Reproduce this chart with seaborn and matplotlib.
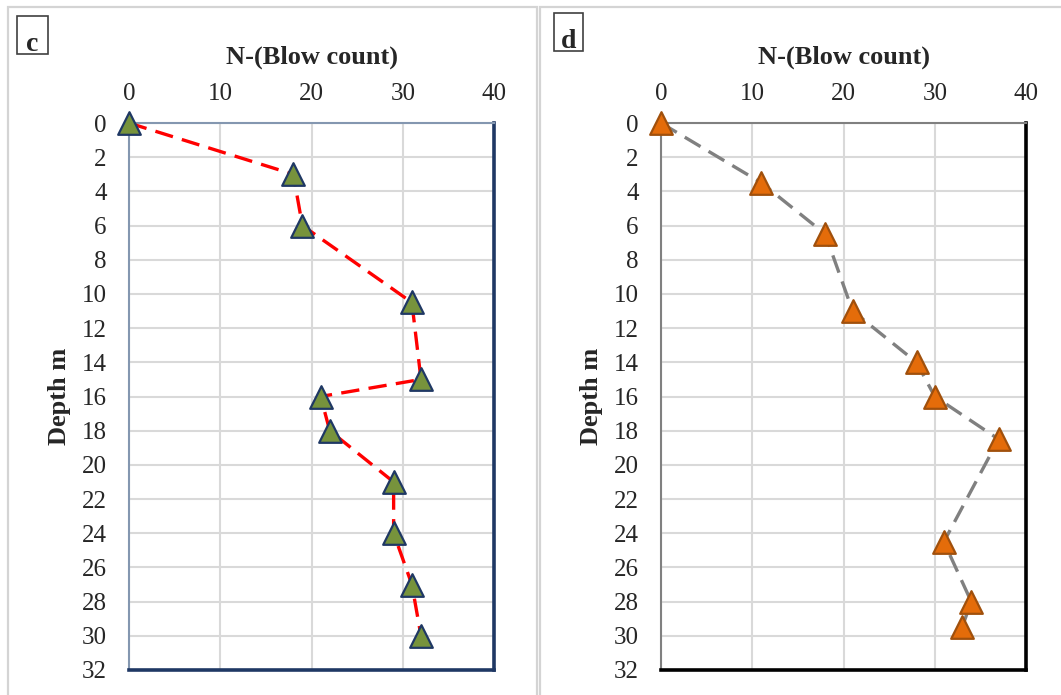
import matplotlib
matplotlib.use('Agg')
import matplotlib.pyplot as plt
import seaborn as sns
import pandas as pd
from matplotlib.patches import Rectangle

# ---- data ----
n_c = [0, 18, 19, 31, 32, 21, 22, 29, 29, 31, 32]
depth_c = [0, 3, 6, 10.5, 15, 16, 18, 21, 24, 27, 30]
n_d = [0, 11, 18, 21, 28, 30, 37, 31, 34, 33]
depth_d = [0, 3.5, 6.5, 11, 14, 16, 18.5, 24.5, 28, 29.5]
x_ticks = [0, 10, 20, 30, 40]
y_ticks = list(range(0, 33, 2))
x_title = "N-(Blow count)"
y_title = "Depth m"
panel_labels = ["c", "d"]

sns.set_theme(style="white")
plt.rcParams['font.family'] = ['Liberation Serif', 'DejaVu Serif']

W, H = 1061, 695
fig = plt.figure(figsize=(W / 100, H / 100), dpi=100)
fig.patch.set_facecolor('white')


def fx(px):
    return px / W


def fy(py):
    return 1 - py / H


# table-cell frames
for (x0, x1) in [(8, 537), (540, 1075)]:
    fig.add_artist(Rectangle((fx(x0), fy(705)), fx(x1 - x0), (705 - 7) / H,
                             transform=fig.transFigure, fill=False,
                             edgecolor='#d4d4d4', lw=1.6))

panels = [
    dict(N=n_c, D=depth_c, left=129, right=494, line='#ff0000', face='#77933c',
         edge='#1f3864', sp_light='#8497b0', sp_dark='#1f3864',
         label=panel_labels[0], box=(17, 16, 48, 54)),
    dict(N=n_d, D=depth_d, left=661, right=1026, line='#808080', face='#e46c0a',
         edge='#a0500c', sp_light='#808080', sp_dark='#000000',
         label=panel_labels[1], box=(554, 13, 583, 51)),
]
top, bottom = 123, 670

for p in panels:
    ax = fig.add_axes([fx(p['left']), fy(bottom), fx(p['right'] - p['left']),
                       (bottom - top) / H])
    df = pd.DataFrame({'N': p['N'], 'Depth': p['D']})
    sns.lineplot(data=df, x='N', y='Depth', sort=False, estimator=None, ax=ax,
                 color=p['line'], lw=2.4, linestyle=(0, (5.5, 2.8)),
                 clip_on=False, zorder=3)
    sns.scatterplot(data=df, x='N', y='Depth', marker='^', s=265,
                    color=p['face'], edgecolor=p['edge'], linewidth=1.6,
                    ax=ax, clip_on=False, zorder=4)
    ax.set_xlim(0, 40)
    ax.set_ylim(32, 0)
    ax.set_xticks(x_ticks)
    ax.set_yticks(y_ticks)
    ax.xaxis.tick_top()
    ax.xaxis.set_label_position('top')
    ax.set_xlabel(x_title, fontsize=19, fontweight='bold', labelpad=13.8)
    ax.set_ylabel(y_title, fontsize=19, fontweight='bold', labelpad=8)
    ax.tick_params(axis='x', length=0, labelsize=18, pad=12.8)
    ax.tick_params(axis='y', length=0, labelsize=18, pad=16)
    ax.grid(True, color='#d9d9d9', lw=1.5)
    ax.set_axisbelow(True)
    for s in ['top', 'left']:
        ax.spines[s].set_color(p['sp_light'])
        ax.spines[s].set_linewidth(1.5)
    for s in ['right', 'bottom']:
        ax.spines[s].set_color(p['sp_dark'])
        ax.spines[s].set_linewidth(2.6)
    x0, y0, x1, y1 = p['box']
    fig.add_artist(Rectangle((fx(x0), fy(y1)), fx(x1 - x0), (y1 - y0) / H,
                             transform=fig.transFigure, fill=False,
                             edgecolor='#404040', lw=1.2))
    fig.text(fx((x0 + x1) / 2), fy(y1 - 3), p['label'], ha='center',
             va='baseline', fontsize=20, fontweight='bold')

fig.savefig('out.png', dpi=100)
